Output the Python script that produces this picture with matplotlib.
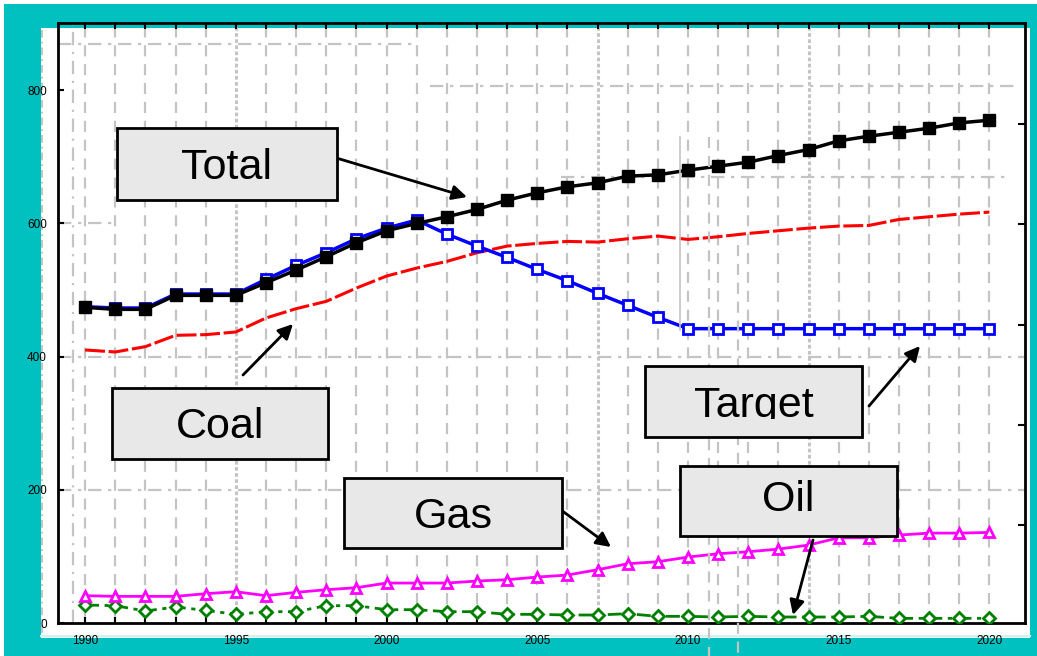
import matplotlib.pyplot as plt
from matplotlib.patches import Rectangle
from matplotlib.lines import Line2D

# Data
years = list(range(1990, 2021))
total = [474, 471, 471, 492, 492, 492, 511, 530, 550, 571, 589, 600, 610, 621, 635, 646,
         655, 661, 671, 673, 680, 686, 692, 702, 711, 724, 731, 737, 743, 751, 755]
target = [475, 473, 473, 494, 494, 494, 516, 537, 556, 577, 593, 605, 584, 566, 549, 531,
          514, 495, 477, 459, 442, 442, 442, 442, 442, 442, 442, 442, 442, 442, 442]
coal = [410, 407, 415, 432, 433, 437, 458, 472, 483, 503, 521, 533, 543, 556, 566, 570,
        573, 572, 577, 581, 576, 580, 585, 589, 593, 596, 597, 606, 610, 614, 617]
gas = [41, 40, 40, 40, 44, 47, 41, 46, 50, 53, 60, 60, 60, 63, 65, 69,
       72, 80, 89, 92, 99, 104, 107, 111, 117, 128, 128, 132, 135, 135, 136]
oil = [27, 26, 18, 24, 19, 13, 17, 17, 26, 26, 20, 20, 17, 17, 13, 13,
       12, 12, 14, 10, 10, 9, 10, 9, 9, 9, 10, 7, 7, 7, 7]

year_labels = [1990, 1995, 2000, 2005, 2010, 2015, 2020]
value_labels = [0, 200, 400, 600, 800]

W, H = 1037, 656
teal = '#00C0C0'
grid_col = '#C4C4C4'
box_col = '#E8E8E8'


# image pixel -> figure fraction
def fx(px):
    return px / W


def fy(py):
    return 1 - py / H


plt.rcParams['font.family'] = ['Liberation Sans', 'DejaVu Sans']

fig = plt.figure(figsize=(W / 100, H / 100), dpi=100, facecolor='white')

# teal frame and white panel
fig.patches.append(Rectangle((fx(4), 0), 1 - fx(4), fy(4), transform=fig.transFigure,
                             facecolor=teal, edgecolor='none', zorder=-3))
fig.patches.append(Rectangle((fx(41), fy(638)), fx(1030) - fx(41), fy(28) - fy(638),
                             transform=fig.transFigure, facecolor='white',
                             edgecolor='none', zorder=-2))
fig.lines.append(Line2D([fx(41), fx(1030)], [fy(636), fy(636)], transform=fig.transFigure,
                        color='#CFF3F3', lw=1.5, zorder=-1))

ax = fig.add_axes([fx(58), fy(623), fx(1025) - fx(58), fy(23) - fy(623)])
ax.set_facecolor('none')
ax.set_xlim(1989.1, 2021.18)
ax.set_ylim(0, 901)

# messy gray grid
dashdot = (0, (6, 3, 1.5, 3))
for y in years:
    if y in (1995, 2007, 2014):
        ax.axvline(y, color=grid_col, lw=2.2, linestyle=(0, (1.2, 0.8)), zorder=0)
    else:
        ax.axvline(y, color=grid_col, lw=1.6, linestyle=(0, (5, 3.5)), zorder=0)
ax.axvline(1989.6, color=grid_col, lw=1.6, linestyle=(0, (6, 3, 1, 3)), zorder=0)
ax.axhline(200, color=grid_col, lw=1.6, linestyle=dashdot, zorder=0)
ax.axhline(400, color=grid_col, lw=1.6, linestyle=dashdot, zorder=0)
ax.axhline(600, 0, 0.059, color=grid_col, lw=1.6, linestyle=dashdot, zorder=0)
ax.axhline(869, 0, 0.369, color=grid_col, lw=1.6, linestyle=dashdot, zorder=0)
ax.axhline(806, 0.385, 0.995, color=grid_col, lw=1.6, linestyle=dashdot, zorder=0)
ax.axhline(669, 0.52, 0.985, color=grid_col, lw=1.6, linestyle=dashdot, zorder=0)

fig.lines.append(Line2D([fx(42), fx(42)], [fy(30), fy(636)], transform=fig.transFigure,
                        color=grid_col, lw=1.4, linestyle=(0, (4, 2, 1, 2)), zorder=-1))
fig.lines.append(Line2D([fx(680), fx(680)], [fy(137), fy(330)], transform=fig.transFigure,
                        color=grid_col, lw=1.2, zorder=0))
fig.lines.append(Line2D([fx(709), fx(709)], [fy(137), fy(656)], transform=fig.transFigure,
                        color=grid_col, lw=1.6, linestyle=(0, (5, 3.5)), zorder=0))
fig.lines.append(Line2D([fx(738), fx(738)], [fy(245), fy(656)], transform=fig.transFigure,
                        color=grid_col, lw=1.6, linestyle=(0, (5, 3.5)), zorder=0))

# series
ax.plot(years, coal, color='#FF0000', lw=2.2, linestyle=(0, (6.5, 1.2)), zorder=3)
ax.plot(years, oil, color='#008000', lw=2, linestyle=(0, (5, 2, 1.5, 2)),
        marker='D', markersize=6, markerfacecolor='white', markeredgecolor='#008000',
        markeredgewidth=2, zorder=3)
ax.plot(years, gas, color='#FF00FF', lw=2, marker='^', markersize=7,
        markerfacecolor='white', markeredgecolor='#FF00FF', markeredgewidth=2, zorder=3)
ax.plot(years, target, color='#0000FF', lw=2.5, marker='s', markersize=7,
        markerfacecolor='white', markeredgecolor='#0000FF', markeredgewidth=2, zorder=4)
ax.plot(years, total, color='black', lw=2.5, marker='s', markersize=9,
        markerfacecolor='black', markeredgecolor='black', zorder=5)

# axes styling
for s in ax.spines.values():
    s.set_linewidth(2)
ax.set_xticks(years, minor=True)
ax.set_xticks(year_labels)
ax.set_xticklabels([str(y) for y in year_labels], fontsize=8.5)
ax.set_yticks(value_labels)
ax.set_yticklabels([str(v) for v in value_labels], fontsize=8.5)
ax.tick_params(axis='both', which='both', direction='in', length=4, width=1.5,
               top=True, pad=8)
ax.tick_params(axis='x', pad=9)
ax.tick_params(axis='y', right=False)

ax2 = ax.twinx()
ax2.set_ylim(0, 901)
ax2.set_yticks([147.4, 297.7, 448.1, 598.5, 748.9])
ax2.set_yticklabels([])
ax2.tick_params(axis='y', direction='in', length=5, width=1.5)
for s in ax2.spines.values():
    s.set_visible(False)

# labelled boxes with arrows
boxes = [
    ('Total', (117, 128, 337, 200), (333, 157), (467, 197), 168),
    ('Coal', (112, 388, 328, 459), (243, 375), (293, 324), 427),
    ('Target', (645, 366, 862, 437), (869, 406), (920, 346), 406),
    ('Gas', (344, 478, 562, 548), (557, 507), (611, 547), 517),
    ('Oil', (680, 466, 897, 536), (813, 540), (793, 615), 500),
]
for name, (x0, y0, x1, y1), start, tip, ty in boxes:
    rect = Rectangle((fx(x0), fy(y1)), fx(x1) - fx(x0), fy(y0) - fy(y1),
                     transform=fig.transFigure, facecolor=box_col, edgecolor='black',
                     lw=2, zorder=6)
    fig.patches.append(rect)
    t = fig.text(fx((x0 + x1) / 2), fy(ty), name, fontsize=31, ha='center',
                 va='center', zorder=7)
    if name == 'Target':
        clip = Rectangle((fx(x0), fy(419)), fx(x1) - fx(x0), fy(y0) - fy(419),
                         transform=fig.transFigure)
        t.set_clip_path(clip)
    ax.annotate('', xy=(fx(tip[0]), fy(tip[1])), xycoords='figure fraction',
                xytext=(fx(start[0]), fy(start[1])), textcoords='figure fraction',
                arrowprops=dict(arrowstyle='-|>', mutation_scale=22, lw=2,
                                color='black', shrinkA=0, shrinkB=0),
                zorder=8, annotation_clip=False)

plt.savefig('out.png', dpi=100)
